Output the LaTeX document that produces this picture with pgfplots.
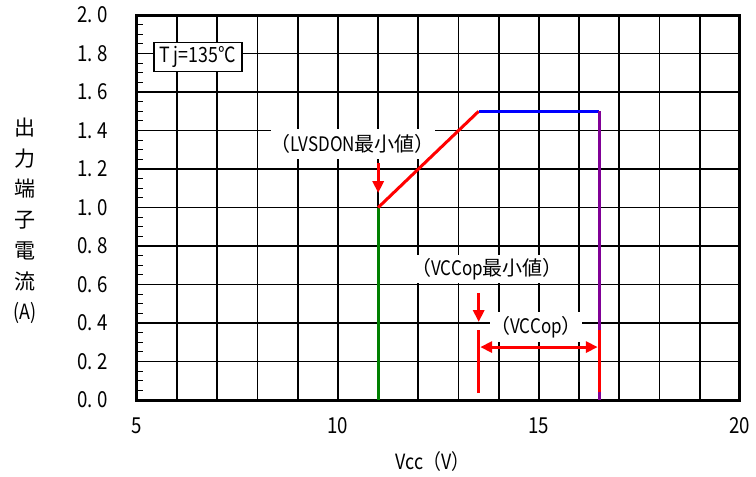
\documentclass[border=0pt]{standalone}
\usepackage{fontspec}
\setmainfont{Noto Sans CJK JP}
\newfontfamily\narrow[FakeStretch=0.85]{Noto Sans CJK JP}
\usepackage{pgfplots}
\pgfplotsset{compat=1.18}
\usetikzlibrary{arrows.meta}
\definecolor{mygreen}{RGB}{0,128,0}
\definecolor{mypurple}{RGB}{128,0,150}
\newcommand{\dd}[2]{#1.\hspace{4pt}#2}
\begin{document}
\begin{tikzpicture}
\useasboundingbox (-137pt,-77pt) rectangle (619pt,400pt);
\begin{axis}[
  at={(0,0)}, anchor=south west,
  scale only axis, width=603pt, height=385pt,
  xmin=5, xmax=20, ymin=0, ymax=2,
  xtick={5,...,20},
  xticklabels={5,,,,,10,,,,,15,,,,,20},
  ytick={0,0.2,0.4,0.6,0.8,1.0,1.2,1.4,1.6,1.8,2.0},
  yticklabels={\dd00,\dd02,\dd04,\dd06,\dd08,\dd10,\dd12,\dd14,\dd16,\dd18,\dd20},
  minor ytick={0.05,0.1,...,1.96},
  grid=major,
  major grid style={black, line width=1.8pt},
  axis line style={black, line width=3pt},
  tick pos=left,
  tick align=inside,
  major tick length=0pt,
  minor tick length=6pt,
  minor tick style={black, line width=1pt},
  ticklabel style={font=\narrow\fontsize{22}{22}\selectfont},
  xticklabel style={yshift=-14pt},
  yticklabel style={xshift=-26pt},
  xlabel={\narrow Vcc（V）},
  xlabel style={font=\fontsize{21}{21}\selectfont, at={(axis description cs:0.49,0)}, anchor=center, yshift=-62pt},
  ylabel={出\\力\\端\\子\\電\\流\\{\narrow (A)}},
  ylabel style={font=\fontsize{21}{30.7}\selectfont, rotate=-90, align=center, at={(axis description cs:0,0.465)}, anchor=center, xshift=-112pt},
  clip=false,
]
% label boxes
\node[draw=black, line width=1.8pt, fill=white, minimum width=88pt, minimum height=29pt, inner sep=0pt, font=\narrow\fontsize{21}{21}\selectfont] at (axis cs:6.52,1.782) {T\hspace{3pt}j=135°C};
\node[fill=white, minimum width=155pt, minimum height=30pt, inner sep=0pt, font=\fontsize{20}{20}\selectfont] at (axis cs:10.37,1.33) {（{\narrow LVSDON}最小値）};
\node[fill=white, minimum width=150pt, minimum height=28pt, inner sep=0pt, font=\fontsize{20}{20}\selectfont] at (axis cs:13.71,0.68) {（{\narrow VCCop}最小値）};
\node[fill=white, minimum width=80pt, minimum height=30pt, inner sep=0pt, font=\fontsize{20}{20}\selectfont] at (axis cs:14.93,0.379) {（{\narrow VCCop}）};
% data
\addplot[mygreen, line width=3pt] coordinates {(11,0) (11,1.0)};
\addplot[red, line width=3pt] coordinates {(11,1.0) (13.5,1.5)};
\addplot[blue, line width=3pt] coordinates {(13.5,1.5) (16.5,1.5)};
\addplot[mypurple, line width=3pt] coordinates {(16.5,1.5) (16.5,0)};
\addplot[red, line width=3pt] coordinates {(13.5,0.036) (13.5,0.364)};
\addplot[red, line width=3pt] coordinates {(16.5,0.04) (16.5,0.364)};
\addplot[red, line width=3pt, {Triangle[length=12pt,width=11pt]}-{Triangle[length=12pt,width=11pt]}, shorten <=1.5pt, shorten >=1.5pt] coordinates {(13.5,0.275) (16.5,0.275)};
\addplot[red, line width=3pt, -{Triangle[length=12pt,width=11pt]}] coordinates {(13.5,0.556) (13.5,0.405)};
\addplot[red, line width=3pt, -{Triangle[length=12pt,width=11pt]}] coordinates {(11,1.23) (11,1.075)};
\end{axis}
\end{tikzpicture}
\end{document}
